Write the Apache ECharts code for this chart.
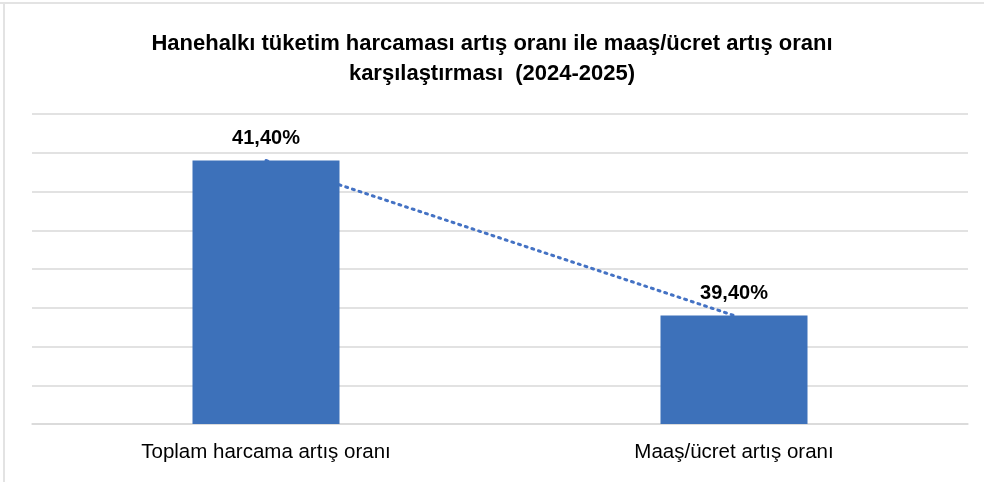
<!DOCTYPE html>
<html>
<head>
<meta charset="utf-8">
<script src="https://cdn.jsdelivr.net/npm/echarts@6/dist/echarts.min.js"></script>
<style>
html,body{margin:0;padding:0;background:#fff;}
#chart{width:984px;height:482px;}
</style>
</head>
<body>
<div id="chart"></div>
<script>
const titleText = "Hanehalkı tüketim harcaması artış oranı ile maaş/ücret artış oranı\nkarşılaştırması  (2024-2025)";
const categories = ["Toplam harcama artış oranı", "Maaş/ücret artış oranı"];
const values = [41.4, 39.4];
const trendValues = [41.4, 39.4];
const labelTexts = ["41,40%", "39,40%"];

const chart = echarts.init(document.getElementById('chart'), null, {renderer: 'canvas'});
const font = "'Liberation Sans', Arial, sans-serif";
chart.setOption({
  animation: false,
  backgroundColor: '#ffffff',
  title: {
    text: titleText,
    left: 'center',
    top: 24,
    textStyle: {fontFamily: font, fontSize: 22, fontWeight: 'bold', color: '#000', lineHeight: 30}
  },
  graphic: [
    {type: 'line', shape: {x1: 0, y1: 3, x2: 984, y2: 3}, style: {stroke: '#e3e3e3', lineWidth: 2}},
    {type: 'line', shape: {x1: 4, y1: 3, x2: 4, y2: 482}, style: {stroke: '#e3e3e3', lineWidth: 2}}
  ],
  grid: {left: 32, right: 16, top: 114, bottom: 58, containLabel: false},
  xAxis: {
    type: 'category',
    data: categories,
    axisLine: {lineStyle: {color: '#d9d9d9', width: 1.5}},
    axisTick: {show: false},
    axisLabel: {fontFamily: font, fontSize: 20.5, color: '#000', margin: 18}
  },
  yAxis: {
    type: 'value',
    min: 38, max: 42, interval: 0.5,
    axisLabel: {show: false},
    axisLine: {show: false},
    axisTick: {show: false},
    splitLine: {lineStyle: {color: '#d9d9d9', width: 1.5}}
  },
  series: [
    {
      type: 'line',
      data: trendValues,
      z: 1,
      symbol: 'none',
      lineStyle: {type: [2, 5], width: 3, color: '#4472c4', cap: 'round'}
    },
    {
      type: 'bar',
      data: values,
      z: 2,
      barWidth: 147,
      itemStyle: {color: '#3d71ba'},
      label: {
        show: true,
        position: 'top',
        distance: 12,
        fontFamily: font,
        fontSize: 20,
        fontWeight: 'bold',
        color: '#000',
        formatter: function (p) { return labelTexts[p.dataIndex]; }
      }
    }
  ]
});
</script>
</body>
</html>
